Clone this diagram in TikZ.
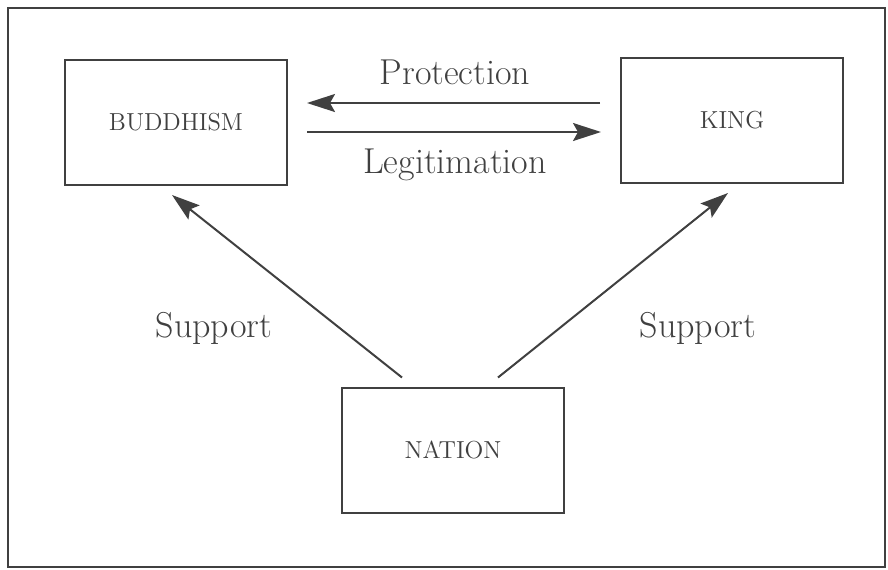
\documentclass[tikz,border=0pt]{standalone}
\usepackage{tikz}
\usetikzlibrary{arrows.meta, positioning, calc}
\definecolor{ink}{gray}{0.25}

\begin{document}
\begin{tikzpicture}[x=0.5pt, y=-0.5pt, color=ink,
    box/.style={draw, line width=1pt, minimum width=111pt, minimum height=62.5pt, font=\fontsize{12.3}{14}\selectfont},
    lbl/.style={font=\fontsize{18}{21}\selectfont, anchor=base},
    arr/.style={line width=1pt, -{Stealth[length=14pt, width=9pt, inset=2.5pt]}}]
  \useasboundingbox (0,0) rectangle (888,569);
  \draw[line width=1.2pt] (8,8) rectangle (885,567);

  \node[box] (buddhism) at (176,122.5) {BUDDHISM};
  \node[box] (king) at (732,120.5) {KING};
  \node[box] (nation) at (453,450) {NATION};

  % exchange between the two top boxes
  \draw[arr] ($(king.west)+(-20,-17.5)$) -- ($(buddhism.east)+(19,-19.5)$);
  \draw[arr] ($(buddhism.east)+(19,9.5)$) -- ($(king.west)+(-19,11.5)$);
  \node[lbl] (protection) at (455,84) {Protection};
  \node[lbl] (legitimation) at (455,173) {Legitimation};

  % support from below
  \draw[arr] ($(nation.north)+(-51,-9)$) -- ($(buddhism.south)+(-4,9)$);
  \draw[arr] ($(nation.north)+(45,-9)$) -- ($(king.south)+(-4,9)$);
  \node[lbl] (supportl) at (214,337) {Support};
  \node[lbl] (supportr) at (698,337) {Support};
\end{tikzpicture}
\end{document}
